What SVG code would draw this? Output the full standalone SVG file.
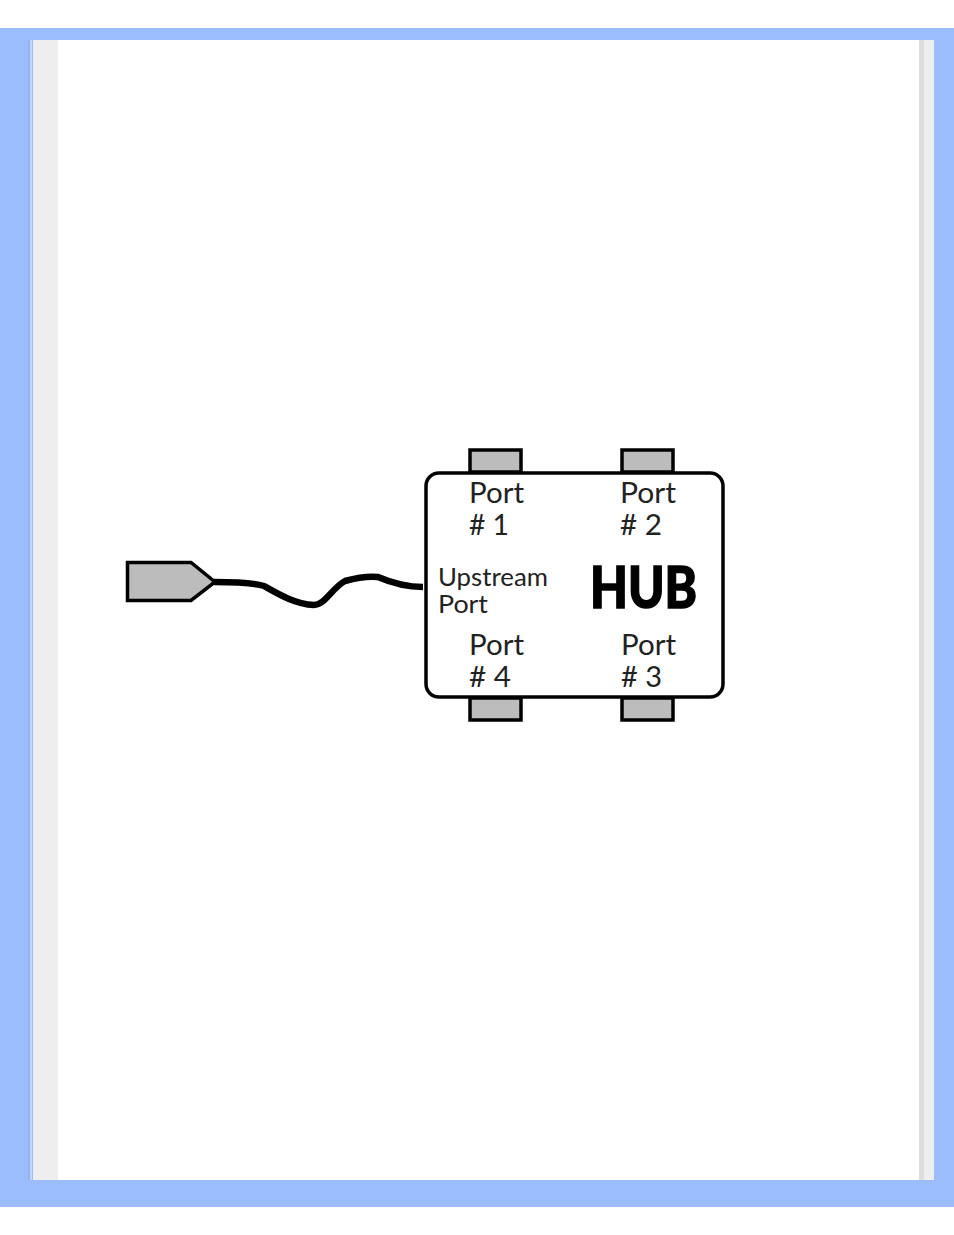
<svg xmlns="http://www.w3.org/2000/svg" width="954" height="1235" viewBox="0 0 954 1235">
<style>
.port{fill:#bcbcbc;stroke:#000;stroke-width:3.500}
.t{font-family:Lato,"Open Sans",sans-serif;fill:#222;font-size:28px}
.u{font-size:25.500px}
</style>
<rect width="954" height="1235" fill="#fff"/>
<rect y="28" width="954" height="1179" fill="#9bbdfb"/>
<rect x="33" y="40" width="25" height="1140" fill="#eee"/>
<rect x="58" y="40" width="861" height="1140" fill="#fff"/>
<rect x="919" y="40" width="5" height="1140" fill="#ddd"/>
<rect x="924" y="40" width="10" height="1140" fill="#eee"/>
<rect x="28" y="40" width="2" height="1140" fill="#92b4f4"/>
<rect x="30" y="40" width="2" height="1140" fill="#c3d5f8"/>
<g id="top-ports">
<rect id="port1-socket" class="port" x="470" y="450" width="51" height="22"/>
<rect id="port2-socket" class="port" x="622" y="450" width="51" height="22"/>
</g>
<g id="bottom-ports">
<rect id="port4-socket" class="port" x="470" y="698" width="51" height="22"/>
<rect id="port3-socket" class="port" x="622" y="698" width="51" height="22"/>
</g>
<g id="hub">
<rect x="426" y="473" width="297" height="224" rx="13" fill="#fff" stroke="#000" stroke-width="3.500"/>
<text class="t" x="469" y="503" textLength="55" lengthAdjust="spacingAndGlyphs">Port</text>
<text class="t" x="469" y="535" textLength="40" lengthAdjust="spacingAndGlyphs"># 1</text>
<text class="t" x="620" y="503" textLength="56" lengthAdjust="spacingAndGlyphs">Port</text>
<text class="t" x="620" y="535" textLength="42" lengthAdjust="spacingAndGlyphs"># 2</text>
<text class="t u" x="438" y="586" textLength="110" lengthAdjust="spacingAndGlyphs">Upstream</text>
<text class="t u" x="438" y="613" textLength="50" lengthAdjust="spacingAndGlyphs">Port</text>
<text x="590" y="608" font-family="Lato,sans-serif" font-weight="900" font-size="58" fill="#000" stroke="#000" stroke-width="1.500" textLength="107" lengthAdjust="spacingAndGlyphs">HUB</text>
<text class="t" x="469" y="655" textLength="55" lengthAdjust="spacingAndGlyphs">Port</text>
<text class="t" x="469" y="687" textLength="42" lengthAdjust="spacingAndGlyphs"># 4</text>
<text class="t" x="621" y="655" textLength="55" lengthAdjust="spacingAndGlyphs">Port</text>
<text class="t" x="621" y="687" textLength="41" lengthAdjust="spacingAndGlyphs"># 3</text>
</g>
<g id="connectors">
<path d="M214 582C230 582 250 582 264 586C278 594 295 604 314 605C325 605 332 588 345 581C356 578 368 576 378 577C392 583 405 587 423 587" fill="none" stroke="#000" stroke-width="6.500"/>
</g>
<g id="plug">
<polygon points="127.500,562.500 191,562.500 215,582 191,600.500 127.500,600.500" fill="#bcbcbc" stroke="#000" stroke-width="3.500"/>
</g>
</svg>
